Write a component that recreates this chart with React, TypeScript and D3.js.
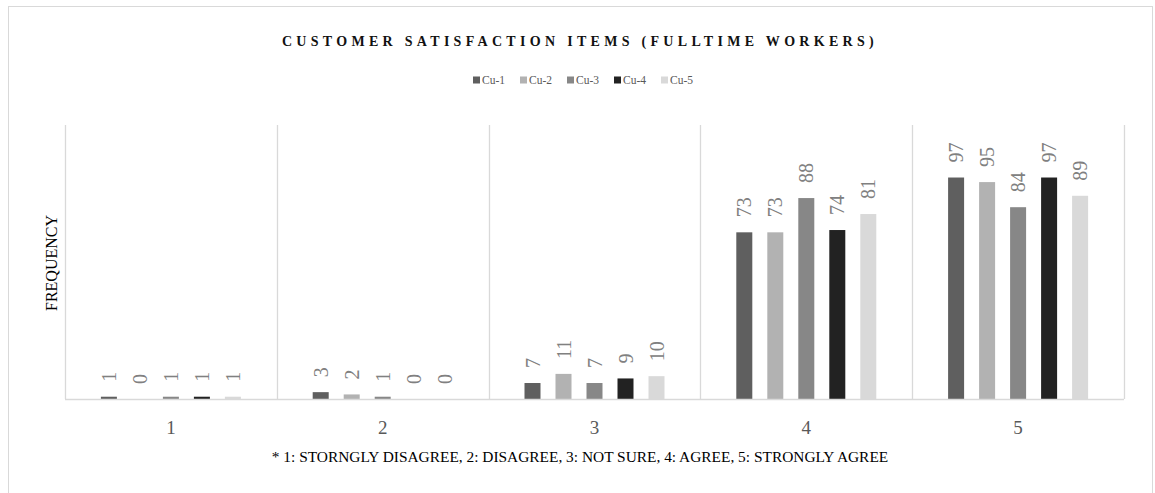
import React from "react";
import * as d3 from "d3";

// Response categories on the x axis
const categories = ["1", "2", "3", "4", "5"];
// Survey items shown as grouped bars
const seriesNames = ["Cu-1", "Cu-2", "Cu-3", "Cu-4", "Cu-5"];
// Frequencies per item, one entry per category
const cu1 = [1, 3, 7, 73, 97];
const cu2 = [0, 2, 11, 73, 95];
const cu3 = [1, 1, 7, 88, 84];
const cu4 = [1, 0, 9, 74, 97];
const cu5 = [1, 0, 10, 81, 89];
const seriesValues = [cu1, cu2, cu3, cu4, cu5];
const seriesColors = ["#5f5f5f", "#b2b2b2", "#878787", "#222222", "#d9d9d9"];

const titleText = "CUSTOMER SATISFACTION ITEMS (FULLTIME WORKERS)";
const yTitle = "FREQUENCY";
const footnote =
  "* 1: STORNGLY DISAGREE, 2: DISAGREE, 3: NOT SURE, 4: AGREE, 5: STRONGLY AGREE";

const W = 1155;
const H = 493;
const plot = { left: 65, right: 1124, top: 125, bottom: 399 };
const FONT = "'Liberation Serif', 'Times New Roman', serif";
const GRID = "#d9d9d9";

export default function App() {
  const x = d3
    .scaleBand<string>()
    .domain(categories)
    .range([plot.left, plot.right])
    .padding(0);
  const groupWidth = 140;
  const inner = d3
    .scaleBand<string>()
    .domain(seriesNames)
    .range([(x.bandwidth() - groupWidth) / 2, (x.bandwidth() + groupWidth) / 2])
    .paddingInner(15 / 31)
    .paddingOuter(0);
  const y = d3.scaleLinear().domain([0, 120]).range([plot.bottom, plot.top]);

  const boundaries = categories.map((c) => x(c)!).concat([plot.right]);

  // legend layout
  const legendItemW = 47;
  const legendStart = 473;
  const legendY = 80;

  return (
    <svg
      width={W}
      height={H}
      style={{ position: "absolute", left: 0, top: 0, background: "#fff" }}
    >
      <rect x={0} y={0} width={W} height={H} fill="#fff" />
      <rect
        x={8.5}
        y={6.5}
        width={1144}
        height={H + 20}
        fill="#fff"
        stroke={GRID}
        strokeWidth={1}
      />

      <text
        x={580}
        y={45.5}
        textAnchor="middle"
        fontFamily={FONT}
        fontSize={14}
        fontWeight="bold"
        letterSpacing={4.3}
        fill="#111"
      >
        {titleText}
      </text>

      {seriesNames.map((s, i) => (
        <g key={s} transform={`translate(${legendStart + i * legendItemW},${legendY})`}>
          <rect x={0} y={-3.5} width={7} height={7} fill={seriesColors[i]} />
          <text
            x={9}
            y={0}
            dominantBaseline="central"
            fontFamily={FONT}
            fontSize={11.5}
            fill="#595959"
          >
            {s}
          </text>
        </g>
      ))}

      {boundaries.map((bx, i) => (
        <line
          key={i}
          x1={Math.round(bx) + 0.5}
          x2={Math.round(bx) + 0.5}
          y1={plot.top}
          y2={plot.bottom}
          stroke={GRID}
          strokeWidth={1.3}
        />
      ))}

      {categories.map((c, ci) => (
        <g key={c} transform={`translate(${x(c)},0)`}>
          {seriesNames.map((s, si) => {
            const v = seriesValues[si][ci];
            const bx = inner(s)!;
            const bw = inner.bandwidth();
            const top = y(v);
            const cx = bx + bw / 2;
            return (
              <g key={s}>
                <rect
                  x={bx}
                  y={top}
                  width={bw}
                  height={plot.bottom - top}
                  fill={seriesColors[si]}
                />
                <text
                  transform={`translate(${cx},${top - 15}) rotate(-90)`}
                  textAnchor="start"
                  dominantBaseline="central"
                  fontFamily={FONT}
                  fontSize={20}
                  fill="#808080"
                >
                  {v}
                </text>
              </g>
            );
          })}
          <text
            x={x.bandwidth() / 2}
            y={433.5}
            textAnchor="middle"
            fontFamily={FONT}
            fontSize={19}
            fill="#595959"
          >
            {c}
          </text>
        </g>
      ))}

      <line
        x1={plot.left}
        x2={plot.right}
        y1={plot.bottom + 0.5}
        y2={plot.bottom + 0.5}
        stroke={GRID}
        strokeWidth={1.3}
      />

      <text
        transform={`translate(56.5,263) rotate(-90)`}
        textAnchor="middle"
        fontFamily={FONT}
        fontSize={16}
        fill="#000"
      >
        {yTitle}
      </text>

      <text
        x={580}
        y={461.5}
        textAnchor="middle"
        fontFamily={FONT}
        fontSize={15.4}
        fill="#000"
      >
        {footnote}
      </text>
    </svg>
  );
}
